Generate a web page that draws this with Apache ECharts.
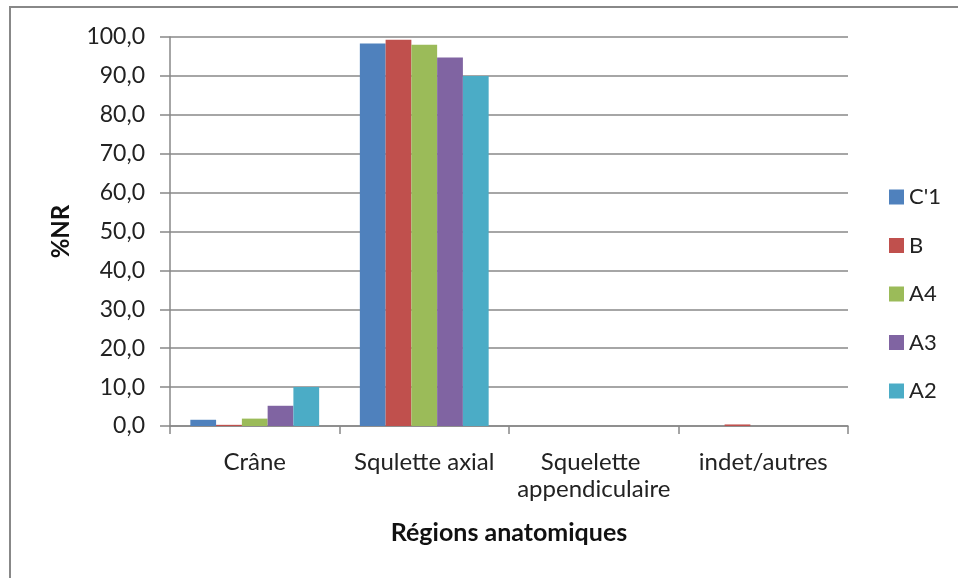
<!DOCTYPE html>
<html>
<head>
<meta charset="utf-8">
<script src="https://cdn.jsdelivr.net/npm/echarts@6/dist/echarts.min.js"></script>
<style>
  html, body { margin: 0; padding: 0; background: #fff; }
  #chart { width: 958px; height: 578px; }
</style>
</head>
<body>
<div id="chart"></div>
<script>
// Anatomical regions on the category axis
const categories = ['Crâne', 'Squlette axial', 'Squelette appendiculaire', 'indet/autres'];

// %NR per level
const seriesNames = ["C'1", 'B', 'A4', 'A3', 'A2'];
const valuesC1 = [1.6, 98.3, 0, 0];
const valuesB  = [0.3, 99.3, 0, 0.4];
const valuesA4 = [1.9, 98.0, 0, 0];
const valuesA3 = [5.2, 94.7, 0, 0];
const valuesA2 = [10.0, 90.0, 0, 0];
const seriesValues = [valuesC1, valuesB, valuesA4, valuesA3, valuesA2];

const colors = ['#4F81BD', '#C0504D', '#9BBB59', '#8064A2', '#4BACC6'];
const font = 'Lato, "Open Sans", sans-serif';

const chart = echarts.init(document.getElementById('chart'));
chart.setOption({
  animation: false,
  color: colors,
  textStyle: { fontFamily: font },
  graphic: [{
    type: 'rect',
    shape: { x: 10, y: 7, width: 960, height: 580 },
    style: { fill: 'none', stroke: '#888', lineWidth: 2 },
    silent: true
  }],
  grid: { left: 170, right: 110, top: 37, bottom: 152 },
  legend: {
    orient: 'vertical',
    left: 884,
    top: 181,
    itemWidth: 15,
    itemHeight: 15,
    itemGap: 26.5,
    icon: 'rect',
    textStyle: { fontFamily: font, fontSize: 22, lineHeight: 22, color: '#222' },
    data: seriesNames
  },
  xAxis: {
    type: 'category',
    data: categories,
    name: 'Régions anatomiques',
    nameLocation: 'middle',
    nameGap: 94,
    nameTextStyle: { fontFamily: font, fontSize: 25, fontWeight: 'bold', color: '#111' },
    axisLine: { lineStyle: { color: '#888', width: 1.5 } },
    axisTick: { show: true, length: 8, lineStyle: { color: '#888', width: 1.5 } },
    axisLabel: {
      fontFamily: font, fontSize: 24, color: '#222', margin: 23,
      width: 165, overflow: 'break', lineHeight: 27, interval: 0
    }
  },
  yAxis: {
    type: 'value',
    min: 0,
    max: 100,
    interval: 10,
    name: '%NR',
    nameLocation: 'middle',
    nameGap: 97,
    nameRotate: 90,
    nameTextStyle: { fontFamily: font, fontSize: 24, fontWeight: 'bold', color: '#111' },
    axisLine: { show: true, lineStyle: { color: '#888', width: 1.5 } },
    axisTick: { show: true, length: 10, lineStyle: { color: '#888', width: 1.5 } },
    splitLine: { lineStyle: { color: '#888', width: 1.5 } },
    axisLabel: {
      fontFamily: font, fontSize: 23, color: '#222', margin: 25,
      formatter: v => v.toFixed(1).replace('.', ',')
    }
  },
  series: seriesNames.map((name, i) => ({
    name,
    type: 'bar',
    data: seriesValues[i],
    barGap: '0%',
    barCategoryGap: '24%'
  }))
});
</script>
</body>
</html>
